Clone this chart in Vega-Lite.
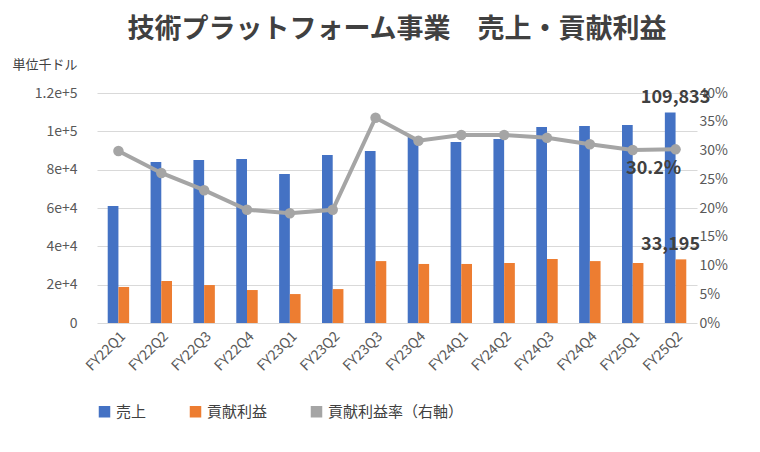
{
"$schema":"https://vega.github.io/schema/vega-lite/v6.json",
"width":600,"height":230,
"padding":{"left":12,"top":16,"right":10,"bottom":10},
"background":"white",
"config":{"font":"Noto Sans CJK JP","view":{"stroke":null},"axis":{"labelColor":"#595959","labelFontSize":14,"domain":false,"ticks":false}},
"title":{"text":"技術プラットフォーム事業　売上・貢献利益","fontSize":27,"color":"#404040","fontWeight":"bold","anchor":"middle","offset":14},
"data":{"values":[
{"q":"FY22Q1","売上":61000,"貢献利益":18800,"rate":0.299},
{"q":"FY22Q2","売上":84000,"貢献利益":21900,"rate":0.261},
{"q":"FY22Q3","売上":85000,"貢献利益":19800,"rate":0.231},
{"q":"FY22Q4","売上":85600,"貢献利益":17200,"rate":0.197},
{"q":"FY23Q1","売上":77700,"貢献利益":15100,"rate":0.191},
{"q":"FY23Q2","売上":87700,"貢献利益":17700,"rate":0.197},
{"q":"FY23Q3","売上":89700,"貢献利益":32300,"rate":0.357},
{"q":"FY23Q4","売上":97000,"貢献利益":30800,"rate":0.317},
{"q":"FY24Q1","売上":94400,"貢献利益":30800,"rate":0.327},
{"q":"FY24Q2","売上":96000,"貢献利益":31300,"rate":0.327},
{"q":"FY24Q3","売上":102300,"貢献利益":33400,"rate":0.322},
{"q":"FY24Q4","売上":102800,"貢献利益":32300,"rate":0.311},
{"q":"FY25Q1","売上":103300,"貢献利益":31300,"rate":0.301},
{"q":"FY25Q2","売上":109833,"貢献利益":33195,"rate":0.302}
]},
"encoding":{"x":{"field":"q","type":"nominal","sort":null,"title":null,"axis":{"labelAngle":-45,"labelPadding":6},"scale":{"paddingInner":0.5,"paddingOuter":0.25}}},
"layer":[
{"layer":[
{"transform":[{"fold":["売上","貢献利益"],"as":["k","v"]}],
"mark":{"type":"bar"},
"encoding":{"xOffset":{"field":"k","sort":["売上","貢献利益"]},
"y":{"field":"v","type":"quantitative","scale":{"domain":[0,120000]},"title":"単位千ドル","axis":{"format":",","tickCount":6,"gridColor":"#d9d9d9","titleAngle":0,"titleX":-85,"titleY":-22,"titleAlign":"left","titleFontSize":13,"titleFontWeight":"normal","titleColor":"#404040","labelPadding":20}},
"color":{"field":"k","type":"nominal","scale":{"domain":["売上","貢献利益","貢献利益率（右軸）"],"range":["#4472C4","#ED7D31","#A5A5A5"]},"legend":{"orient":"bottom","title":null,"labelFontSize":15,"labelColor":"#404040","symbolType":"square","columnPadding":40,"offset":30}}}},
{"transform":[{"filter":"datum.q=='FY25Q2'"}],"mark":{"type":"text","dy":-14,"fontSize":18,"fontWeight":"bold","color":"#404040"},
"encoding":{"y":{"field":"売上","type":"quantitative","title":"単位千ドル","axis":{"format":",","tickCount":6,"gridColor":"#d9d9d9","titleAngle":0,"titleX":-85,"titleY":-22,"titleAlign":"left","titleFontSize":13,"titleFontWeight":"normal","titleColor":"#404040","labelPadding":20}},"text":{"field":"売上","format":","}}},
{"transform":[{"filter":"datum.q=='FY25Q2'"}],"mark":{"type":"text","dy":-14,"dx":-5,"fontSize":18,"fontWeight":"bold","color":"#404040"},
"encoding":{"y":{"field":"貢献利益","type":"quantitative","title":"単位千ドル","axis":{"format":",","tickCount":6,"gridColor":"#d9d9d9","titleAngle":0,"titleX":-85,"titleY":-22,"titleAlign":"left","titleFontSize":13,"titleFontWeight":"normal","titleColor":"#404040","labelPadding":20}},"text":{"field":"貢献利益","format":","}}}
]},
{"layer":[
{"mark":{"type":"line","strokeWidth":4,"point":{"size":110,"filled":true}},
"encoding":{"y":{"field":"rate","type":"quantitative","scale":{"domain":[0,0.4]},"title":null,"axis":{"orient":"right","format":".0%","tickCount":8,"grid":false}},
"color":{"datum":"貢献利益率（右軸）"}}},
{"transform":[{"filter":"datum.q=='FY25Q2'"}],"mark":{"type":"text","dy":20,"dx":-22,"fontSize":18,"fontWeight":"bold","color":"#404040"},
"encoding":{"y":{"field":"rate","type":"quantitative","title":null,"axis":{"orient":"right","format":".0%","tickCount":8,"grid":false}},"text":{"field":"rate","format":".1%"}}}
]}
],
"resolve":{"scale":{"y":"independent"}}
}
